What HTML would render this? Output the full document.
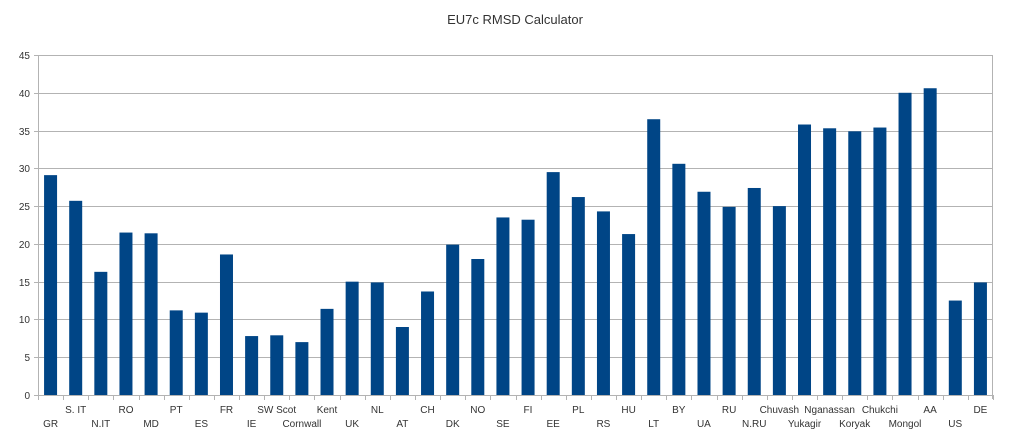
<!DOCTYPE html>
<html><head><style>
html,body{margin:0;padding:0;background:#fff;}
svg{display:block;font-family:"Liberation Sans",sans-serif;}
</style></head><body>
<svg width="1024" height="437" viewBox="0 0 1024 437">
<rect width="1024" height="437" fill="#fff"/>
<text x="515" y="24" font-size="13" text-anchor="middle" fill="#333">EU7c RMSD Calculator</text>
<g stroke="#b3b3b3" stroke-width="1">
<line x1="34" y1="55.5" x2="993" y2="55.5"/>
<line x1="34" y1="93.5" x2="993" y2="93.5"/>
<line x1="34" y1="131.5" x2="993" y2="131.5"/>
<line x1="34" y1="168.5" x2="993" y2="168.5"/>
<line x1="34" y1="206.5" x2="993" y2="206.5"/>
<line x1="34" y1="244.5" x2="993" y2="244.5"/>
<line x1="34" y1="282.5" x2="993" y2="282.5"/>
<line x1="34" y1="319.5" x2="993" y2="319.5"/>
<line x1="34" y1="357.5" x2="993" y2="357.5"/>
<line x1="34" y1="395.5" x2="993" y2="395.5"/>
<line x1="38.5" y1="55" x2="38.5" y2="399"/>
<line x1="992.5" y1="55" x2="992.5" y2="399"/>
</g>
<g id="ticks" stroke="#b3b3b3"></g>
<g id="bars" fill="#004586"></g>
<g font-size="10" fill="#333" text-anchor="end">
<text x="30" y="59">45</text><text x="30" y="97">40</text><text x="30" y="135">35</text>
<text x="30" y="172">30</text><text x="30" y="210">25</text><text x="30" y="248">20</text>
<text x="30" y="286">15</text><text x="30" y="323">10</text><text x="30" y="361">5</text>
<text x="30" y="399">0</text>
</g>
<g font-size="10" fill="#333" text-anchor="middle">
<text x="50.6" y="427">GR</text>
<text x="75.7" y="413">S. IT</text>
<text x="100.8" y="427">N.IT</text>
<text x="126.0" y="413">RO</text>
<text x="151.1" y="427">MD</text>
<text x="176.2" y="413">PT</text>
<text x="201.4" y="427">ES</text>
<text x="226.5" y="413">FR</text>
<text x="251.6" y="427">IE</text>
<text x="276.7" y="413">SW Scot</text>
<text x="301.9" y="427">Cornwall</text>
<text x="327.0" y="413">Kent</text>
<text x="352.1" y="427">UK</text>
<text x="377.3" y="413">NL</text>
<text x="402.4" y="427">AT</text>
<text x="427.5" y="413">CH</text>
<text x="452.7" y="427">DK</text>
<text x="477.8" y="413">NO</text>
<text x="502.9" y="427">SE</text>
<text x="528.0" y="413">FI</text>
<text x="553.2" y="427">EE</text>
<text x="578.3" y="413">PL</text>
<text x="603.4" y="427">RS</text>
<text x="628.6" y="413">HU</text>
<text x="653.7" y="427">LT</text>
<text x="678.8" y="413">BY</text>
<text x="703.9" y="427">UA</text>
<text x="729.1" y="413">RU</text>
<text x="754.2" y="427">N.RU</text>
<text x="779.3" y="413">Chuvash</text>
<text x="804.5" y="427">Yukagir</text>
<text x="829.6" y="413">Nganassan</text>
<text x="854.7" y="427">Koryak</text>
<text x="879.9" y="413">Chukchi</text>
<text x="905.0" y="427">Mongol</text>
<text x="930.1" y="413">AA</text>
<text x="955.2" y="427">US</text>
<text x="980.4" y="413">DE</text>
</g>
</svg>
<script>
var v=[29.1,25.7,16.3,21.5,21.4,11.2,10.9,18.6,7.8,7.9,7.0,11.4,15.0,14.9,9.0,13.7,19.9,18.0,23.5,23.2,29.5,26.2,24.3,21.3,36.5,30.6,26.9,24.9,27.4,25.0,35.8,35.3,34.9,35.4,40.0,40.6,12.5,14.9];
var ns="http://www.w3.org/2000/svg",b=document.getElementById("bars"),t=document.getElementById("ticks");
var w=955/38;
for(var i=0;i<v.length;i++){var c=38+w*(i+0.5),h=v[i]*340/45;
var r=document.createElementNS(ns,"rect");r.setAttribute("x",c-6.5);r.setAttribute("y",395-h);r.setAttribute("width",13);r.setAttribute("height",h);b.appendChild(r);}
for(var i=0;i<=38;i++){var x=Math.round(38+w*i)+0.5;var l=document.createElementNS(ns,"line");l.setAttribute("x1",x);l.setAttribute("x2",x);l.setAttribute("y1",395);l.setAttribute("y2",400);t.appendChild(l);}
</script>
</body></html>
